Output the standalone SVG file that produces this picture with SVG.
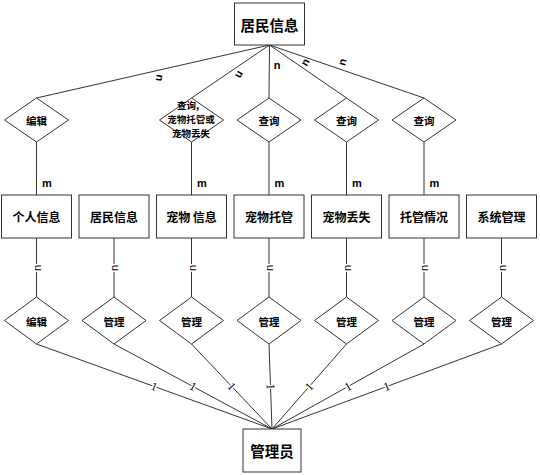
<svg xmlns="http://www.w3.org/2000/svg" width="540" height="475" viewBox="0 0 540 475">
<style>
.box{fill:#fff;stroke:#333;stroke-width:1}
.dia{fill:#fff;stroke:#333;stroke-width:1}
.ln{stroke:#333;stroke-width:1;fill:none}
.t{font-family:"Noto Sans CJK SC","Noto Sans",sans-serif;font-weight:bold;fill:#000;text-anchor:middle;dominant-baseline:central}
.big{font-size:14.5px}
.mid{font-size:12px}
.sm{font-size:10.5px}
.xs{font-size:9.5px}
.lb{font-family:"Liberation Sans",Arial,sans-serif;font-size:11px;font-weight:bold;fill:#000;text-anchor:middle;dominant-baseline:central}
.lbb{font-family:"Liberation Sans",Arial,sans-serif;font-size:11px;font-weight:bold;fill:#000;text-anchor:middle;dominant-baseline:central}
.one{font-family:"Liberation Serif","Times New Roman",serif;font-size:12px;fill:#000;text-anchor:middle;dominant-baseline:central;stroke:#fff;stroke-width:3;paint-order:stroke}
.halo{stroke:#fff;stroke-width:3;paint-order:stroke;font-weight:normal}
</style>
<rect width="540" height="475" fill="#fff"/>
<g id="connectors">
  <line class="ln" x1="269.5" y1="45" x2="36.5" y2="98"/>
  <line class="ln" x1="269.5" y1="45" x2="191.5" y2="98"/>
  <line class="ln" x1="269.5" y1="45" x2="269" y2="98"/>
  <line class="ln" x1="269.5" y1="45" x2="346.5" y2="98"/>
  <line class="ln" x1="269.5" y1="45" x2="424" y2="98"/>
  <line class="ln" x1="36.5" y1="142" x2="36.5" y2="195"/>
  <line class="ln" x1="191.5" y1="142" x2="191.5" y2="195"/>
  <line class="ln" x1="269" y1="142" x2="269" y2="195"/>
  <line class="ln" x1="346.5" y1="142" x2="346.5" y2="195"/>
  <line class="ln" x1="424" y1="142" x2="424" y2="195"/>
  <line class="ln" x1="36.5" y1="238" x2="36.5" y2="297"/>
  <line class="ln" x1="114" y1="238" x2="114" y2="297"/>
  <line class="ln" x1="191.5" y1="238" x2="191.5" y2="297"/>
  <line class="ln" x1="269" y1="238" x2="269" y2="297"/>
  <line class="ln" x1="346.5" y1="238" x2="346.5" y2="297"/>
  <line class="ln" x1="424" y1="238" x2="424" y2="297"/>
  <line class="ln" x1="501.5" y1="238" x2="501.5" y2="297"/>
  <line class="ln" x1="36.5" y1="344" x2="272" y2="429"/>
  <line class="ln" x1="114" y1="344" x2="272" y2="429"/>
  <line class="ln" x1="191.5" y1="344" x2="272" y2="429"/>
  <line class="ln" x1="269" y1="344" x2="272" y2="429"/>
  <line class="ln" x1="346.5" y1="344" x2="272" y2="429"/>
  <line class="ln" x1="424" y1="344" x2="272" y2="429"/>
  <line class="ln" x1="501.5" y1="344" x2="272" y2="429"/>
  <text class="lb" transform="translate(160,78) rotate(100)">n</text>
  <text class="lb" transform="translate(240,75) rotate(120)">n</text>
  <text class="lbb" x="277" y="65">n</text>
  <text class="lb" transform="translate(305,62) rotate(-60)">n</text>
  <text class="lb" transform="translate(342,62) rotate(-75)">n</text>
  <text class="lbb" x="47" y="183">m</text>
  <text class="lbb" x="202" y="183">m</text>
  <text class="lbb" x="279.5" y="183">m</text>
  <text class="lbb" x="357" y="183">m</text>
  <text class="lbb" x="434.5" y="183">m</text>
  <text class="lb halo" transform="translate(36.5,268) rotate(-90)">n</text>
  <text class="lb halo" transform="translate(114,268) rotate(-90)">n</text>
  <text class="lb halo" transform="translate(191.5,268) rotate(-90)">n</text>
  <text class="lb halo" transform="translate(269,268) rotate(-90)">n</text>
  <text class="lb halo" transform="translate(346.5,268) rotate(-90)">n</text>
  <text class="lb halo" transform="translate(424,268) rotate(-90)">n</text>
  <text class="lb halo" transform="translate(501.5,268) rotate(-90)">n</text>
  <text class="one" transform="translate(154.2,386.5) rotate(19.9)">1</text>
  <text class="one" transform="translate(193,386.5) rotate(28.3)">1</text>
  <text class="one" transform="translate(231.7,386.5) rotate(46.6)">1</text>
  <text class="one" transform="translate(270.5,386.5) rotate(88)">1</text>
  <text class="one" transform="translate(309.2,386.5) rotate(-48.8)">1</text>
  <text class="one" transform="translate(348,386.5) rotate(-29.2)">1</text>
  <text class="one" transform="translate(386.7,386.5) rotate(-20.3)">1</text>
</g>
<g id="resident_top">
  <rect class="box" x="234.5" y="3" width="70" height="42"/>
  <text class="t big" x="269.5" y="24">居民信息</text>
</g>
<g id="rel_edit_top">
  <polygon class="dia" points="36.5,98 68.5,120 36.5,142 4.5,120"/>
  <text class="t sm" x="36.5" y="120">编辑</text>
</g>
<g id="rel_query_pet">
  <polygon class="dia" points="191.5,98 223.5,120 191.5,142 159.5,120"/>
  <text class="t xs" x="188" y="105">查询,</text>
  <text class="t xs" x="191" y="119">宠物托管或</text>
  <text class="t xs" x="191" y="133">宠物丢失</text>
</g>
<g id="rel_query_1">
  <polygon class="dia" points="269,98 301,120 269,142 237,120"/>
  <text class="t sm" x="269" y="120">查询</text>
</g>
<g id="rel_query_2">
  <polygon class="dia" points="346.5,98 378.5,120 346.5,142 314.5,120"/>
  <text class="t sm" x="346.5" y="120">查询</text>
</g>
<g id="rel_query_3">
  <polygon class="dia" points="424,98 456,120 424,142 392,120"/>
  <text class="t sm" x="424" y="120">查询</text>
</g>
<g id="ent_personal">
  <rect class="box" x="1.5" y="195" width="70" height="43"/>
  <text class="t mid" x="36.5" y="216.5">个人信息</text>
</g>
<g id="ent_resident">
  <rect class="box" x="79" y="195" width="70" height="43"/>
  <text class="t mid" x="114" y="216.5">居民信息</text>
</g>
<g id="ent_pet">
  <rect class="box" x="156.5" y="195" width="70" height="43"/>
  <text class="t mid" x="191.5" y="216.5">宠物 信息</text>
</g>
<g id="ent_foster">
  <rect class="box" x="234" y="195" width="70" height="43"/>
  <text class="t mid" x="269" y="216.5">宠物托管</text>
</g>
<g id="ent_lost">
  <rect class="box" x="311.5" y="195" width="70" height="43"/>
  <text class="t mid" x="346.5" y="216.5">宠物丢失</text>
</g>
<g id="ent_status">
  <rect class="box" x="389" y="195" width="70" height="43"/>
  <text class="t mid" x="424" y="216.5">托管情况</text>
</g>
<g id="ent_system">
  <rect class="box" x="466.5" y="195" width="70" height="43"/>
  <text class="t mid" x="501.5" y="216.5">系统管理</text>
</g>
<g id="rel_b1">
  <polygon class="dia" points="36.5,297 68.5,320.5 36.5,344 4.5,320.5"/>
  <text class="t sm" x="36.5" y="321">编辑</text>
</g>
<g id="rel_b2">
  <polygon class="dia" points="114,297 146,320.5 114,344 82,320.5"/>
  <text class="t sm" x="114" y="321">管理</text>
</g>
<g id="rel_b3">
  <polygon class="dia" points="191.5,297 223.5,320.5 191.5,344 159.5,320.5"/>
  <text class="t sm" x="191.5" y="321">管理</text>
</g>
<g id="rel_b4">
  <polygon class="dia" points="269,297 301,320.5 269,344 237,320.5"/>
  <text class="t sm" x="269" y="321">管理</text>
</g>
<g id="rel_b5">
  <polygon class="dia" points="346.5,297 378.5,320.5 346.5,344 314.5,320.5"/>
  <text class="t sm" x="346.5" y="321">管理</text>
</g>
<g id="rel_b6">
  <polygon class="dia" points="424,297 456,320.5 424,344 392,320.5"/>
  <text class="t sm" x="424" y="321">管理</text>
</g>
<g id="rel_b7">
  <polygon class="dia" points="501.5,297 533.5,320.5 501.5,344 469.5,320.5"/>
  <text class="t sm" x="501.5" y="321">管理</text>
</g>
<g id="admin">
  <rect class="box" x="243" y="429" width="58" height="43"/>
  <text class="t big" x="272" y="450.5">管理员</text>
</g>
</svg>
